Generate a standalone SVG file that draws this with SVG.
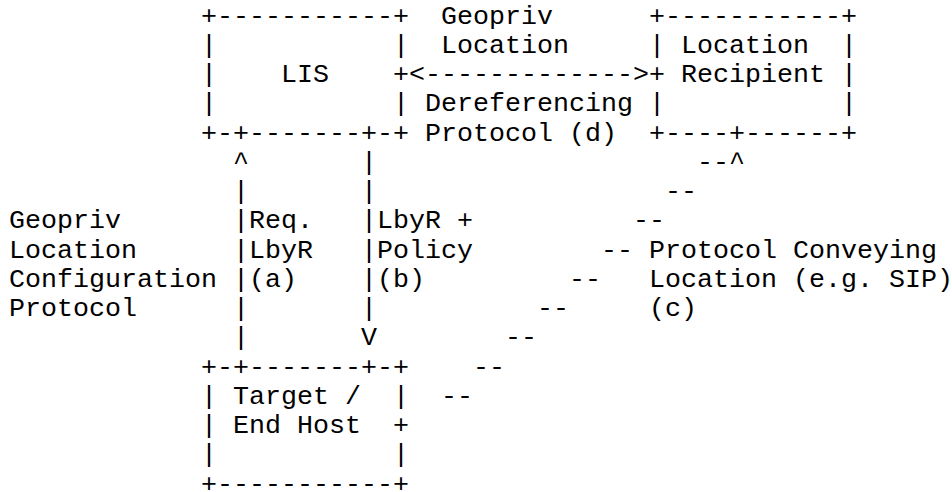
<svg xmlns="http://www.w3.org/2000/svg" width="952" height="492" viewBox="0 0 952 492" xml:space="preserve">
<style>
text{font-family:"Liberation Mono","Courier New",monospace;font-size:26.67px;white-space:pre;fill:#000}
</style>
<rect width="952" height="492" fill="#fff"/>
<g id="lis">
<text x="201" y="23.5">+-----------+</text>
<text x="201" y="52.75">|           |</text>
<text x="201" y="82">|    LIS    +</text>
<text x="201" y="111.25">|           |</text>
<text x="201" y="140.5">+-+-------+-+</text>
</g>
<g id="location-recipient">
<text x="649" y="23.5">+-----------+</text>
<text x="649" y="52.75">| Location  |</text>
<text x="649" y="82">+ Recipient |</text>
<text x="649" y="111.25">|           |</text>
<text x="649" y="140.5">+----+------+</text>
</g>
<g id="target">
<text x="201" y="374.5">+-+-------+-+</text>
<text x="201" y="403.75">| Target /  |</text>
<text x="201" y="433">| End Host  +</text>
<text x="201" y="462.25">|           |</text>
<text x="201" y="491.5">+-----------+</text>
</g>
<g id="connectors">
<g id="conn-d">
<text x="409" y="82">&lt;-------------&gt;</text>
<text x="441" y="23.5">Geopriv</text>
<text x="441" y="52.75">Location</text>
<text x="425" y="111.25">Dereferencing</text>
<text x="425" y="140.5">Protocol (d)</text>
</g>
<g id="conn-a">
<text x="233" y="169.75">^</text>
<text x="233" y="199">|</text>
<text x="233" y="228.25">|Req.</text>
<text x="233" y="257.5">|LbyR</text>
<text x="233" y="286.75">|(a)</text>
<text x="233" y="316">|</text>
<text x="233" y="345.25">|</text>
<text x="9" y="228.25">Geopriv</text>
<text x="9" y="257.5">Location</text>
<text x="9" y="286.75">Configuration</text>
<text x="9" y="316">Protocol</text>
</g>
<g id="conn-b">
<text x="361" y="169.75">|</text>
<text x="361" y="199">|</text>
<text x="361" y="228.25">|LbyR +</text>
<text x="361" y="257.5">|Policy</text>
<text x="361" y="286.75">|(b)</text>
<text x="361" y="316">|</text>
<text x="361" y="345.25">V</text>
</g>
<g id="conn-c">
<text x="697" y="169.75">--^</text>
<text x="665" y="199">--</text>
<text x="633" y="228.25">--</text>
<text x="601" y="257.5">--</text>
<text x="569" y="286.75">--</text>
<text x="537" y="316">--</text>
<text x="505" y="345.25">--</text>
<text x="473" y="374.5">--</text>
<text x="441" y="403.75">--</text>
<text x="649" y="257.5">Protocol Conveying</text>
<text x="649" y="286.75">Location (e.g. SIP)</text>
<text x="649" y="316">(c)</text>
</g>
</g>
</svg>
